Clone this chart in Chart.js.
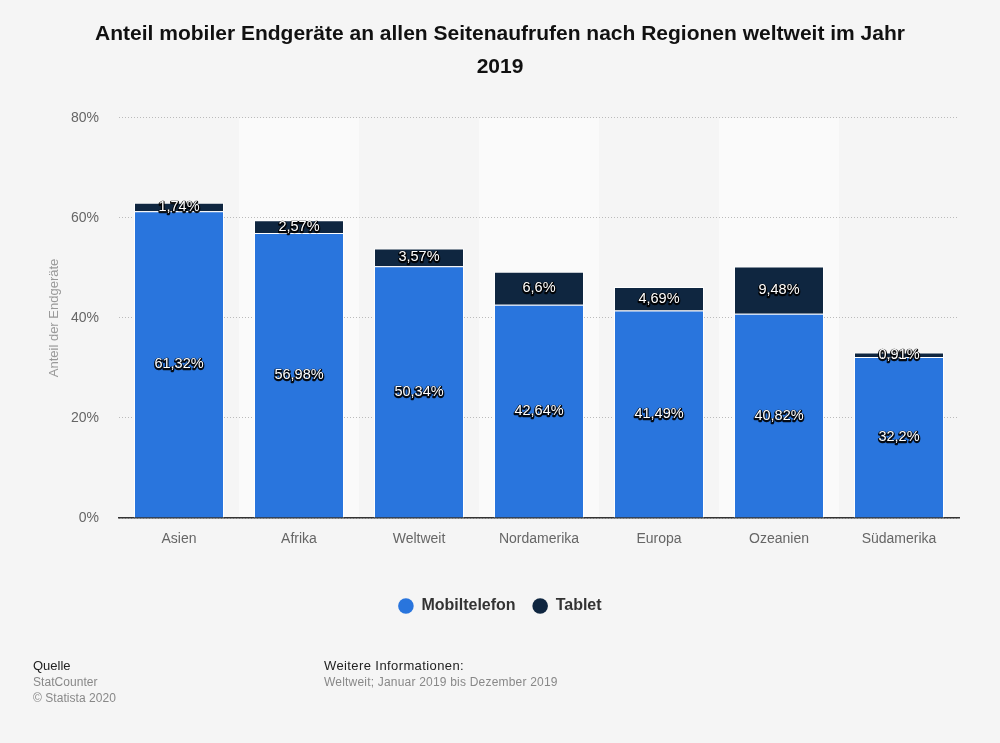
<!DOCTYPE html>
<html lang="de">
<head>
<meta charset="utf-8">
<title>Anteil mobiler Endgeräte</title>
<script src="https://cdn.jsdelivr.net/npm/chart.js@4/dist/chart.umd.min.js"></script>
<style>
  html, body { margin: 0; padding: 0; background: #f5f5f5; }
  #wrap { position: relative; width: 1000px; height: 743px; overflow: hidden; font-family: "Liberation Sans", Arial, sans-serif; }
  canvas { position: absolute; left: 0; top: 0; }
  .note { position: absolute; font-size: 12px; line-height: 16px; color: #888; white-space: nowrap; }
  .note b { font-weight: normal; color: #222; display: block; font-size: 13px; line-height: 17px; }
</style>
</head>
<body>
<div id="wrap">
  <canvas id="StatChart" width="1000" height="743"></canvas>
  <div class="note" style="left:33px;top:657px;letter-spacing:0.05px"><b style="letter-spacing:0">Quelle</b>StatCounter<br>© Statista 2020</div>
  <div class="note" style="left:324px;top:657px;letter-spacing:0.2px"><b style="letter-spacing:0.4px">Weitere Informationen:</b>Weltweit; Januar 2019 bis Dezember 2019</div>
</div>
<script>
const categories = ["Asien", "Afrika", "Weltweit", "Nordamerika", "Europa", "Ozeanien", "Südamerika"];
const mobileValues = [61.32, 56.98, 50.34, 42.64, 41.49, 40.82, 32.2];
const tabletValues = [1.74, 2.57, 3.57, 6.6, 4.69, 9.48, 0.91];
const titleLines = ["Anteil mobiler Endgeräte an allen Seitenaufrufen nach Regionen weltweit im Jahr", "2019"];

const FONT = '"Liberation Sans", Arial, sans-serif';

// lighter bands behind every second category
const bandsPlugin = {
  id: "bands",
  beforeDraw(chart) {
    const { ctx, chartArea, scales } = chart;
    const step = scales.x.getPixelForValue(1) - scales.x.getPixelForValue(0);
    ctx.save();
    ctx.fillStyle = "#fafafa";
    categories.forEach((c, i) => {
      if (i % 2 == 1) {
        ctx.fillRect(scales.x.getPixelForValue(i) - step / 2, chartArea.top, step, chartArea.bottom - chartArea.top);
      }
    });
    ctx.restore();
  },
};

// white labels with a dark halo in the middle of each segment
const labelsPlugin = {
  id: "segmentLabels",
  afterDatasetsDraw(chart) {
    const { ctx } = chart;
    ctx.save();
    ctx.font = "14.5px " + FONT;
    ctx.textAlign = "center";
    ctx.textBaseline = "middle";
    ctx.lineJoin = "round";
    chart.data.datasets.forEach((ds, d) => {
      chart.getDatasetMeta(d).data.forEach((bar, i) => {
        const p = bar.getCenterPoint();
        const text = String(ds.data[i]).replace(".", ",") + "%";
        ctx.strokeStyle = "rgba(0,0,0,0.9)";
        ctx.lineWidth = 2.5;
        ctx.strokeText(text, p.x, p.y + 1);
        ctx.fillStyle = "#fff";
        ctx.fillText(text, p.x, p.y);
      });
    });
    ctx.restore();
  },
};

// title and legend are centred on the page, not on the padded box
const centerPlugin = {
  id: "centerBlocks",
  afterLayout(chart) {
    chart.titleBlock.left = 0;
    chart.titleBlock.right = chart.width;
    chart.legend.left = 0;
    chart.legend.right = chart.width;
  },
};

new Chart(document.getElementById("StatChart"), {
  type: "bar",
  data: {
    labels: categories,
    datasets: [
      { label: "Mobiltelefon", data: mobileValues, backgroundColor: "#2975dd", borderColor: "#fff", borderWidth: 1 },
      { label: "Tablet", data: tabletValues, backgroundColor: "#0f2640", borderColor: "#fff", borderWidth: 1 },
    ],
  },
  plugins: [bandsPlugin, labelsPlugin, centerPlugin],
  options: {
    responsive: false,
    animation: false,
    barPercentage: 0.75,
    categoryPercentage: 1,
    layout: { padding: { left: 0, right: 41, top: 18, bottom: 119 } },
    plugins: {
      title: {
        display: true,
        text: titleLines,
        color: "#111",
        font: { family: FONT, size: 21, weight: "bold", lineHeight: 1.57 },
        padding: { top: 0, bottom: 34 },
      },
      legend: {
        position: "bottom",
        labels: {
          color: "#333",
          font: { family: FONT, size: 16, weight: "bold" },
          usePointStyle: true,
          boxHeight: 11,
          boxWidth: 15,
          padding: 17,
          generateLabels(chart) {
            return Chart.defaults.plugins.legend.labels.generateLabels(chart).map((l) => ({ ...l, lineWidth: 0 }));
          },
        },
      },
      tooltip: { enabled: false },
    },
    scales: {
      x: {
        stacked: true,
        afterFit(axis) { axis.height = 63; },
        grid: { display: false },
        border: { display: true, color: "#333", width: 1.5 },
        ticks: { color: "#666", font: { family: FONT, size: 14 }, padding: 5, maxRotation: 0 },
      },
      y: {
        stacked: true,
        min: 0,
        max: 80,
        afterFit(axis) { axis.width = 119; },
        border: { display: false, dash: [1, 2] },
        grid: { color: "#bbb", lineWidth: 1, drawTicks: false },
        ticks: { stepSize: 20, color: "#666", font: { family: FONT, size: 14 }, padding: 20, callback: (v) => v + "%" },
        title: { display: true, text: "Anteil der Endgeräte", color: "#999", font: { family: FONT, size: 13 }, padding: { top: 47, bottom: 0 } },
      },
    },
  },
});
</script>
</body>
</html>
